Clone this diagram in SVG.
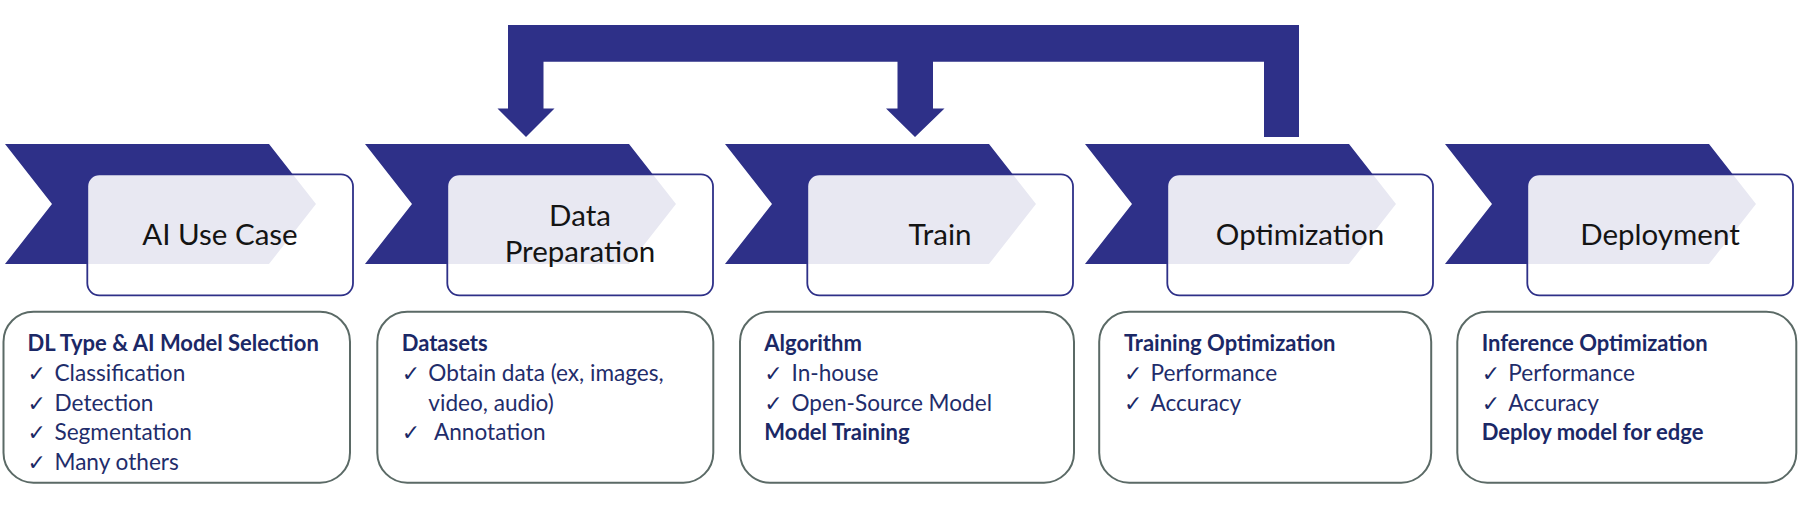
<svg xmlns="http://www.w3.org/2000/svg" width="1800" height="517" viewBox="0 0 1800 517">
<style>
.chev{fill:#2E3088}
.card{fill:#ffffff;fill-opacity:0.89;stroke:#2E3088;stroke-width:1.8}
.title{font-family:Lato,"Liberation Sans",sans-serif;font-weight:400;font-size:29.5px;fill:#141414;text-anchor:middle}
.box{fill:#ffffff;stroke:#5B6A66;stroke-width:2}
.h{font-family:Lato,"Liberation Sans",sans-serif;font-weight:700;font-size:22px;fill:#1B2866}
.t{font-family:Lato,"Liberation Sans",sans-serif;font-weight:400;font-size:22.6px;fill:#1F2D6B}
.ck{font-family:"DejaVu Sans",sans-serif;font-size:22px;font-weight:700;fill:#1B2866}
.arrow{fill:#2E3088}
</style>
<defs>
<polygon id="chevron" points="0,144 264,144 311,204 264,264 0,264 47,204"/>
</defs>
<rect width="1800" height="517" fill="#ffffff"/>
<g id="connectors">
<path class="arrow" d="M508,25 H1299 V137 H1264 V61.7 H933 V108.5 H944.5 L915,137 L886,108.5 H897.5 V61.7 H543.5 V108.5 H554.5 L526,137 L497.5,108.5 H508 Z"/>
</g>
<g id="stage-ai-use-case">
<use href="#chevron" class="chev" x="5"/>
<rect class="card" x="87.3" y="174.3" width="265.7" height="121" rx="12"/>
<text class="title" x="220" y="245">AI Use Case</text>
</g>
<g id="stage-data-preparation">
<use href="#chevron" class="chev" x="365"/>
<rect class="card" x="447.3" y="174.3" width="265.7" height="121" rx="12"/>
<text class="title" x="580" y="226">Data</text>
<text class="title" x="580" y="261.5">Preparation</text>
</g>
<g id="stage-train">
<use href="#chevron" class="chev" x="725"/>
<rect class="card" x="807.3" y="174.3" width="265.7" height="121" rx="12"/>
<text class="title" x="940" y="245">Train</text>
</g>
<g id="stage-optimization">
<use href="#chevron" class="chev" x="1085"/>
<rect class="card" x="1167.3" y="174.3" width="265.7" height="121" rx="12"/>
<text class="title" x="1300" y="245">Optimization</text>
</g>
<g id="stage-deployment">
<use href="#chevron" class="chev" x="1445"/>
<rect class="card" x="1527.3" y="174.3" width="265.7" height="121" rx="12"/>
<text class="title" x="1660" y="245">Deployment</text>
</g>
<g id="detail-ai-use-case">
<rect class="box" x="3.5" y="311.7" width="346.5" height="171" rx="30"/>
<text class="h" x="27.5" y="350.5">DL Type &amp; AI Model Selection</text>
<text class="ck" x="27.5" y="380.5">✓</text><text class="t" x="54.5" y="380.5">Classification</text>
<text class="ck" x="27.5" y="410.5">✓</text><text class="t" x="54.5" y="410.5">Detection</text>
<text class="ck" x="27.5" y="440">✓</text><text class="t" x="54.5" y="440">Segmentation</text>
<text class="ck" x="27.5" y="470">✓</text><text class="t" x="54.5" y="470">Many others</text>
</g>
<g id="detail-data-preparation">
<rect class="box" x="377.3" y="311.7" width="336" height="171" rx="30"/>
<text class="h" x="401.7" y="350.5">Datasets</text>
<text class="ck" x="401.7" y="380.5">✓</text><text class="t" x="428.3" y="380.5">Obtain data (ex, images,</text>
<text class="t" x="428.3" y="410.5">video, audio)</text>
<text class="ck" x="401.7" y="440">✓</text><text class="t" x="434" y="440">Annotation</text>
</g>
<g id="detail-train">
<rect class="box" x="740" y="311.7" width="334" height="171" rx="30"/>
<text class="h" x="764.3" y="350.5">Algorithm</text>
<text class="ck" x="764.3" y="380.5">✓</text><text class="t" x="791.5" y="380.5">In-house</text>
<text class="ck" x="764.3" y="410.5">✓</text><text class="t" x="791.5" y="410.5">Open-Source Model</text>
<text class="h" x="764.3" y="440">Model Training</text>
</g>
<g id="detail-optimization">
<rect class="box" x="1099.2" y="311.7" width="332" height="171" rx="30"/>
<text class="h" x="1123.9" y="350.5">Training Optimization</text>
<text class="ck" x="1123.9" y="380.5">✓</text><text class="t" x="1150.5" y="380.5">Performance</text>
<text class="ck" x="1123.9" y="410.5">✓</text><text class="t" x="1150.5" y="410.5">Accuracy</text>
</g>
<g id="detail-deployment">
<rect class="box" x="1457.3" y="311.7" width="339" height="171" rx="30"/>
<text class="h" x="1481.7" y="350.5">Inference Optimization</text>
<text class="ck" x="1481.7" y="380.5">✓</text><text class="t" x="1508.3" y="380.5">Performance</text>
<text class="ck" x="1481.7" y="410.5">✓</text><text class="t" x="1508.3" y="410.5">Accuracy</text>
<text class="h" x="1481.7" y="440">Deploy model for edge</text>
</g>
</svg>
